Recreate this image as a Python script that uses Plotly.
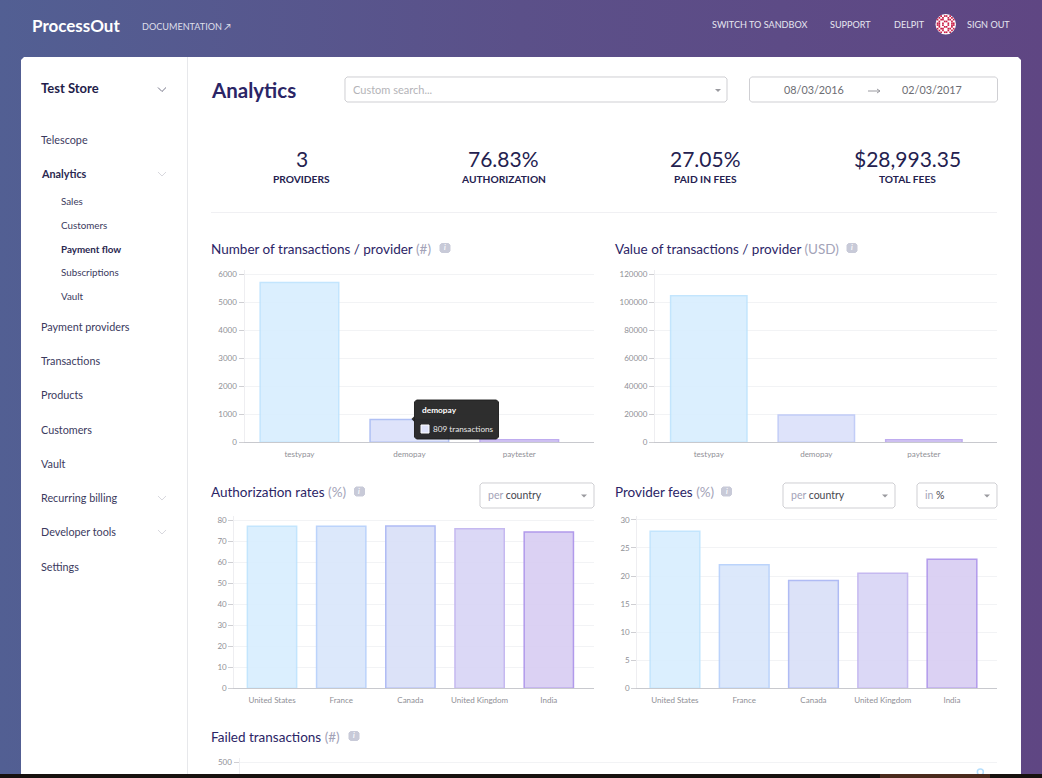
import plotly.graph_objects as go

W = 1042
H = 778
FONT = "Lato"
NAVY = "#2b2566"
MUTED = "#a3a3b8"
TICK = "#8f8f96"

providers = ["testypay", "demopay", "paytester"]
transactions_count = [5700, 809, 90]
transactions_value = [104500, 19500, 1800]
countries = ["United States", "France", "Canada", "United Kingdom", "India"]
auth_rates = [77, 77, 77.2, 75.8, 74.3]
provider_fees = [28, 22, 19.2, 20.5, 23]
failed_x = [97.8]
failed_y = [470]

fill3 = ["#d8eefe", "#dbe0fa", "#d8cff3"]
line3 = ["#bde3fd", "#a8baf3", "#b8a4ee"]
fill5 = ["#d8eefe", "#d9e6fb", "#d9dff8", "#d8d4f5", "#d7cdf2"]
line5 = ["#bde3fd", "#b4cffb", "#a7b4f3", "#bfb2ef", "#a98fe9"]

nav_items = [("Telescope", 140), ("Payment providers", 327), ("Transactions", 361),
             ("Products", 395), ("Customers", 430), ("Vault", 464),
             ("Recurring billing", 498), ("Developer tools", 532), ("Settings", 567)]
sub_items = [("Sales", 202), ("Customers", 226), ("Subscriptions", 273), ("Vault", 297)]
kpis = [("3", "PROVIDERS", 301.5), ("76.83%", "AUTHORIZATION", 503.5),
        ("27.05%", "PAID IN FEES", 705), ("$28,993.35", "TOTAL FEES", 907)]
top_links = [("SWITCH TO SANDBOX", 712), ("SUPPORT", 830), ("DELPIT", 894), ("SIGN OUT", 967)]
avatar_rows = ["..#.##.#..", ".#.#..#.#.", "#.##..##.#", ".#..##..#.", "##.#..#.##",
               "##.#..#.##", ".#..##..#.", "#.##..##.#", ".#.#..#.#.", "..#.##.#.."]

shapes = []
notes = []


def fx(v):
    return v / W


def fy(v):
    return 1 - v / H


def rect(x0, y0, x1, y1, fill, line=None, layer="below"):
    shapes.append(dict(type="rect", xref="paper", yref="paper", x0=fx(x0), x1=fx(x1), y0=fy(y0), y1=fy(y1),
                       fillcolor=fill, line=dict(color=line or fill, width=1 if line else 0), layer=layer))


def path(points, fill="rgba(0,0,0,0)", line=None, width=1, layer="below", close=True):
    d = "M " + " L ".join(f"{fx(x):.5f},{fy(y):.5f}" for x, y in points) + (" Z" if close else "")
    shapes.append(dict(type="path", xref="paper", yref="paper", path=d, fillcolor=fill,
                       line=dict(color=line or "rgba(0,0,0,0)", width=width), layer=layer))


def round_box(x0, y0, x1, y1, r=2, fill="#ffffff", line="#cfcfd3", layer="below"):
    pts = [(x0 + r, y0), (x1 - r, y0), (x1, y0 + r), (x1, y1 - r), (x1 - r, y1), (x0 + r, y1), (x0, y1 - r), (x0, y0 + r)]
    path(pts, fill=fill, line=line, layer=layer)


def note(x, y, text, size=10.8, color="#3b3a5e", anchor="left", weight=400):
    # annotation text lands a little right of and below the asked position
    notes.append(dict(x=fx(x - 2 if anchor == "left" else x), y=fy(y - 0.7), xref="paper", yref="paper", text=text,
                      showarrow=False, xanchor=anchor, yanchor="middle",
                      font=dict(family=FONT, size=size, color=color, weight=weight)))


def chevron(x, y, color):
    path([(x - 4, y - 2), (x, y + 2), (x + 4, y - 2)], line=color, close=False)


def caret(x, y):
    path([(x - 3, y - 1.5), (x + 3, y - 1.5), (x, y + 1.5)], fill="#9a9a9f")


def badge(x, y):
    round_box(x - 5, y - 4.5, x + 5, y + 4.5, r=1.5, fill="#c8cad8", line="#c8cad8")
    note(x, y, "<i>i</i>", size=7, color="#ffffff", anchor="center", weight=700)


def select_box(x0, x1, y0, prefix, word):
    round_box(x0, y0, x1, y0 + 25)
    note(x0 + 8, y0 + 12.5, f'<span style="color:{MUTED}">{prefix}</span> {word}', size=10.5, color="#47474f")
    caret(x1 - 10, y0 + 13)


# page furniture
path([(21, 60), (24, 57), (1018, 57), (1021, 60), (1021, 778), (21, 778)], fill="#ffffff")
rect(187, 57, 188, 778, "#e7e8eb")
rect(211, 212, 997, 213, "#f0f0f3")
rect(0, 774, W, H, "#17110f", layer="above")
rect(880, 774, 990, H, "#4a2a1c", layer="above")

note(32, 26, "ProcessOut", size=17, color="#ffffff", weight=700)
note(142, 27.5, "DOCUMENTATION ↗", size=9.1, color="#dedfea")
for label, x in top_links:
    note(x, 25.5, label, size=9.1, color="#e6e6f0")
shapes.append(dict(type="circle", xref="paper", yref="paper", x0=fx(935.5), x1=fx(956), y0=fy(34.5), y1=fy(14),
                   fillcolor="#ffffff", line=dict(width=0), layer="below"))
for row, cells in enumerate(avatar_rows):
    for col, cell in enumerate(cells):
        if cell == "#":
            rect(936.7 + col * 1.8, 15.2 + row * 1.8, 938.4 + col * 1.8, 16.9 + row * 1.8, "#c81f48")

note(41, 89, "Test Store", size=13, color="#1f1d4a", weight=700)
chevron(162, 89.5, "#77778a")
note(41, 174, "Analytics", size=10.8, color="#2a2850", weight=700)
chevron(162, 174, "#d8d8de")
chevron(162, 498, "#d8d8de")
chevron(162, 532, "#d8d8de")
for label, y in nav_items:
    note(41, y, label)
for label, y in sub_items:
    note(61, y, label, size=9.8)
note(61, 250, "Payment flow", size=9.8, color="#2a2850", weight=700)

note(211, 90.5, "Analytics", size=20.5, color=NAVY, weight=700)
round_box(345, 77, 727, 102)
note(353, 90, "Custom search...", size=11, color="#b4b4b8")
caret(718, 90.5)
round_box(749.5, 77, 997.5, 102)
note(814, 90, "08/03/2016", size=10.8, color="#6d6d73", anchor="center")
note(932, 90, "02/03/2017", size=10.8, color="#6d6d73", anchor="center")
path([(868, 91), (880, 91)], line="#9a9aa0", close=False)
path([(877, 89), (880, 91), (877, 93)], line="#9a9aa0", close=False)

for value, label, x in kpis:
    note(x, 159.5, value, size=21, color="#24214f", anchor="center")
    note(x, 179.5, label, size=10.2, color="#24214f", anchor="center", weight=700)

note(211, 249.5, f'Number of transactions / provider <span style="color:{MUTED}">(#)</span>', size=13.5, color=NAVY)
badge(445, 248)
note(615, 249.5, f'Value of transactions / provider <span style="color:{MUTED}">(USD)</span>', size=13.5, color=NAVY)
badge(852, 248)
note(211, 492.5, f'Authorization rates <span style="color:{MUTED}">(%)</span>', size=13.5, color=NAVY)
badge(359.5, 491.5)
note(615, 492.5, f'Provider fees <span style="color:{MUTED}">(%)</span>', size=13.5, color=NAVY)
badge(726.5, 491.5)
note(211, 737.5, f'Failed transactions <span style="color:{MUTED}">(#)</span>', size=13.5, color=NAVY)
badge(354, 736)
select_box(480, 594, 483, "per", "country")
select_box(783, 895, 483, "per", "country")
select_box(917, 997, 483, "in", "%")

# tooltip sits over the demopay bar
round_box(414.5, 400, 498.5, 439, r=2, fill="rgba(30,30,30,0.93)", line="rgba(30,30,30,0.93)", layer="above")
path([(414.5, 416), (411.5, 419), (414.5, 422)], fill="rgba(30,30,30,0.93)", layer="above")
rect(421, 425, 429, 433, "#dfe3fa", line="#ffffff", layer="above")
note(422, 411, "demopay", size=8.3, color="#ffffff", weight=700)
note(433, 429.5, "809 transactions", size=8.2, color="#e8e8e8")

fig = go.Figure()
fig.add_trace(go.Bar(x=providers, y=transactions_count, width=0.715, marker=dict(color=fill3, opacity=0.9, line=dict(color=line3, width=1.5)), xaxis="x", yaxis="y"))
fig.add_trace(go.Bar(x=providers, y=transactions_value, width=0.71, marker=dict(color=fill3, opacity=0.9, line=dict(color=["#bde3fd", "#bcc8f7", "#b8a4ee"], width=1.5)), xaxis="x2", yaxis="y2"))
fig.add_trace(go.Bar(x=countries, y=auth_rates, width=0.712, marker=dict(color=fill5, opacity=0.9, line=dict(color=line5, width=1.5)), xaxis="x3", yaxis="y3"))
fig.add_trace(go.Bar(x=countries, y=provider_fees, width=0.717, marker=dict(color=fill5, opacity=0.9, line=dict(color=line5, width=1.5)), xaxis="x4", yaxis="y4"))
fig.add_trace(go.Scatter(x=failed_x, y=failed_y, mode="markers", cliponaxis=False,
                         marker=dict(size=6, color="#ffffff", line=dict(color="#b5defc", width=1.5)), xaxis="x5", yaxis="y5"))


def x_axis(left, right, lo, hi, anchor):
    return dict(domain=[fx(left), fx(right)], range=[lo, hi], anchor=anchor, type="category", showgrid=False,
                showline=True, linecolor="#c8c9ce", linewidth=1, ticks="", ticklabelstandoff=4, automargin=False,
                tickfont=dict(family=FONT, size=8, color=TICK), fixedrange=True)


def y_axis(bottom, top, hi, dtick, anchor):
    return dict(domain=[fy(bottom), fy(top)], range=[0, hi], anchor=anchor, dtick=dtick, gridcolor="#f2f3f5",
                gridwidth=1, showline=True, linecolor="#eeeef1", linewidth=1, ticks="outside", ticklen=5,
                tickcolor="#cfcfd3", zeroline=False, automargin=False, tickformat="d",
                tickfont=dict(family=FONT, size=8, color=TICK), fixedrange=True)


fig.update_layout(
    width=W, height=H, autosize=False, showlegend=False, hovermode=False,
    margin=dict(l=0, r=0, t=0, b=0), paper_bgcolor="rgba(0,0,0,0)", plot_bgcolor="rgba(0,0,0,0)",
    font=dict(family=FONT), shapes=shapes, annotations=notes,
    xaxis=x_axis(244.5, 594, -0.5, 2.68, "y"),
    yaxis=y_axis(442.3, 270, 6143, 1000, "x"),
    xaxis2=x_axis(655, 997, -0.5, 2.68, "y2"),
    yaxis2=y_axis(442.3, 270, 122850, 20000, "x2"),
    xaxis3=x_axis(234.3, 594, -0.545, 4.653, "y3"),
    yaxis3=y_axis(688.3, 516, 81.9, 10, "x3"),
    xaxis4=x_axis(637.3, 997, -0.544, 4.65, "y4"),
    yaxis4=y_axis(688.3, 516, 30.7, 5, "x4"),
    xaxis5=dict(domain=[fx(239.5), fx(997)], range=[0, 100], anchor="y5", showgrid=False, showline=False,
                zeroline=False, showticklabels=False, ticks="", fixedrange=True, automargin=False),
    yaxis5=y_axis(774, 758, 512, 500, "x5"),
)
fig.update_layout(yaxis5=dict(range=[464, 512], tickvals=[500]))

page_style = ("document.body.style.margin='0';document.body.style.overflow='hidden';"
              "document.body.style.background='linear-gradient(90deg,#525f93 0%,#5b5089 50%,#5f4683 100%)';")
fig.write_html("out.html", post_script=page_style, config=dict(displayModeBar=False))
